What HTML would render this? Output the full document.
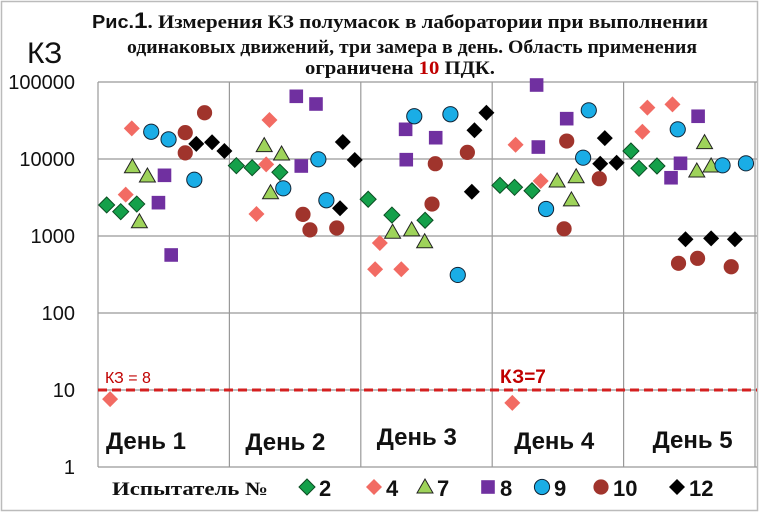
<!DOCTYPE html>
<html><head><meta charset="utf-8"><style>
html,body{margin:0;padding:0;background:#fff;width:759px;height:512px;overflow:hidden}
svg{display:block}
</style></head><body>
<svg id="chart" width="759" height="512" xmlns="http://www.w3.org/2000/svg">
<rect x="1.5" y="1.5" width="756" height="509" fill="#fff" stroke="#bbb" stroke-width="1.5"/>
<g font-weight="bold" font-size="19" fill="#111">
<text x="92" y="28" textLength="616" lengthAdjust="spacingAndGlyphs" font-family="Liberation Serif, serif"><tspan font-family="Liberation Sans, sans-serif" font-size="18">Рис.</tspan><tspan font-family="Liberation Sans, sans-serif" font-size="22">1</tspan>. Измерения КЗ полумасок в лаборатории при выполнении</text>
<text x="127" y="53" textLength="570" lengthAdjust="spacingAndGlyphs" font-family="Liberation Serif, serif">одинаковых движений, три замера в день. Область применения</text>
<text x="305" y="74" textLength="190" lengthAdjust="spacingAndGlyphs" font-family="Liberation Serif, serif">ограничена <tspan fill="#c00000">10</tspan> ПДК.</text>
</g>
<text x="27" y="63" font-family="Liberation Sans, sans-serif" font-size="30" fill="#111">КЗ</text>
<g id="grid"></g>
<g id="ticks" font-family="Liberation Sans, sans-serif" font-size="20" fill="#111" text-anchor="end"></g>
<g id="days" font-family="Liberation Sans, sans-serif" font-size="24" font-weight="bold" fill="#111"></g>
<line x1="98" y1="390" x2="757" y2="390" stroke="#d42020" stroke-width="3" stroke-dasharray="9,5"/>
<text x="105" y="383" font-family="Liberation Sans, sans-serif" font-size="16" fill="#c00000">КЗ = 8</text>
<text x="500" y="383" font-family="Liberation Sans, sans-serif" font-size="19" font-weight="bold" fill="#c00000">КЗ=7</text>
<g id="marks"></g>
<g id="legend"></g>
</svg>
<script>
const dayLabels=["День 1","День 2","День 3","День 4","День 5"];
const tickValues=[1,10,100,1000,10000,100000];
const tickLabels=["1","10","100","1000","10000","100000"];
const seriesNames=["2","4","7","8","9","10","12"];
// x in day units (0..5), y = KZ
const s2x=[0.066,0.173,0.295,1.053,1.173,1.384,2.056,2.237,2.489,3.059,3.170,3.303,4.056,4.117,4.254];
const s2y=[2530,2070,2600,8190,7710,6720,3000,1870,1600,4550,4290,3870,12700,7570,8110];
const s4x=[0.092,0.211,0.257,1.206,1.280,1.305,2.109,2.145,2.308,3.153,3.178,3.369,4.143,4.181,4.372];
const s4y=[7.6,3440,25000,1930,8530,32100,370,811,370,6.8,15300,5180,22600,46400,51300];
const s7x=[0.262,0.315,0.376,1.265,1.313,1.397,2.242,2.387,2.486,3.494,3.603,3.639,4.557,4.616,4.666];
const s7y=[7940,1530,6010,14900,3650,11600,1120,1200,843,5180,2940,5890,6980,16300,8110];
const s8x=[0.460,0.506,0.557,1.509,1.547,1.659,2.341,2.346,2.570,3.338,3.351,3.567,4.361,4.433,4.567];
const s8y=[2710,6140,567,65200,8110,51800,24300,9800,18900,91400,14300,33400,5710,8790,35900];
const s9x=[0.405,0.537,0.733,1.410,1.677,1.738,2.407,2.682,2.738,3.410,3.692,3.735,4.412,4.753,4.931];
const s9y=[22600,18000,5380,4160,9910,2910,35900,38100,312,2240,10400,42900,24300,8280,8790];
const s10x=[0.664,0.664,0.811,1.560,1.613,1.817,2.542,2.567,2.811,3.547,3.567,3.815,4.418,4.563,4.819];
const s10y=[22000,12000,39900,1910,1200,1270,2600,8690,12200,1240,17100,5550,442,513,399];
const s12x=[0.748,0.868,0.962,1.842,1.863,1.954,2.845,2.865,2.956,3.822,3.857,3.947,4.471,4.666,4.847];
const s12y=[15700,16500,12700,2290,16600,9700,3760,23600,39900,8690,18700,8950,906,933,906];

const NS="http://www.w3.org/2000/svg";
const X0=98,DW=131.4,Y1=467,DEC=77;
function xs(d){return X0+d*DW;}
function ys(v){return Y1-Math.log10(v)*DEC;}
function mk(tag,attrs,parent){const e=document.createElementNS(NS,tag);for(const k in attrs)e.setAttribute(k,attrs[k]);parent.appendChild(e);return e;}
const grid=document.getElementById('grid'),ticks=document.getElementById('ticks'),days=document.getElementById('days'),marks=document.getElementById('marks'),legend=document.getElementById('legend');
tickValues.forEach((v,i)=>{
  if(i>0){const l=mk('line',{x1:X0,x2:757,y1:ys(v),y2:ys(v),stroke:'#999','stroke-width':1.2},grid);
  
  }
  const t=mk('text',{x:75,y:ys(v)+7},ticks);t.textContent=tickLabels[i];
  
  
});
for(let i=0;i<=5;i++){
  const l=mk('line',{x1:xs(i),x2:xs(i),y1:ys(100000),y2:ys(1),stroke:'#999','stroke-width':1.2},grid);
  
  
}
mk('line',{x1:X0,x2:757,y1:ys(1),y2:ys(1),stroke:'#999','stroke-width':1.2},grid);
const dayY=[449,450,445,449,448];
const dayOff=[8,16,16,22,29];
dayLabels.forEach((d,i)=>{const t=mk('text',{x:xs(i)+dayOff[i],y:dayY[i],textLength:80,lengthAdjust:'spacingAndGlyphs'},days);t.textContent=d;
  
  });
const styles=[
 {shape:'diamond',fill:'#14a04a',stroke:'#0b4d22'},
 {shape:'diamond',fill:'#f26b63',stroke:'none'},
 {shape:'triangle',fill:'#9ed35a',stroke:'#222'},
 {shape:'square',fill:'#7030a0',stroke:'none'},
 {shape:'circle',fill:'#1aade6',stroke:'#123'},
 {shape:'circle',fill:'#a0342c',stroke:'none'},
 {shape:'diamond',fill:'#000',stroke:'none'}];
function drawMarker(p,st,cx,cy,r){
  let e;
  if(st.shape==='diamond')e=mk('polygon',{points:`${cx},${cy-r} ${cx+r},${cy} ${cx},${cy+r} ${cx-r},${cy}`},p);
  else if(st.shape==='triangle')e=mk('polygon',{points:`${cx},${cy-r} ${cx+r},${cy+r*0.75} ${cx-r},${cy+r*0.75}`},p);
  else if(st.shape==='square')e=mk('rect',{x:cx-r*0.85,y:cy-r*0.85,width:r*1.7,height:r*1.7},p);
  else e=mk('circle',{cx:cx,cy:cy,r:r*0.95},p);
  e.setAttribute('fill',st.fill);e.setAttribute('stroke',st.stroke);e.setAttribute('stroke-width',1);
  return e;
}
const allX=[s2x,s4x,s7x,s8x,s9x,s10x,s12x],allY=[s2y,s4y,s7y,s8y,s9y,s10y,s12y];
allX.forEach((xa,si)=>{
  const g=mk('g',{},marks);
  
  
  xa.forEach((xv,j)=>{
    const e=drawMarker(g,styles[si],xs(xv),ys(allY[si][j]),8);
    
    
  });
});
const lt=mk('text',{x:112,y:495,'font-family':'Liberation Serif, serif','font-size':19,'font-weight':'bold',fill:'#111',textLength:156,lengthAdjust:'spacingAndGlyphs'},legend);
lt.textContent='Испытатель №';


const legX=[307,374,425,488,542,601,677];
seriesNames.forEach((n,i)=>{
  const g=mk('g',{},legend);
  
  
  drawMarker(g,styles[i],legX[i],487,8);
  const t=mk('text',{x:legX[i]+12,y:496,'font-family':'Liberation Sans, sans-serif','font-size':22,'font-weight':'bold',fill:'#111'},g);
  t.textContent=n;
});
</script>
</body></html>
